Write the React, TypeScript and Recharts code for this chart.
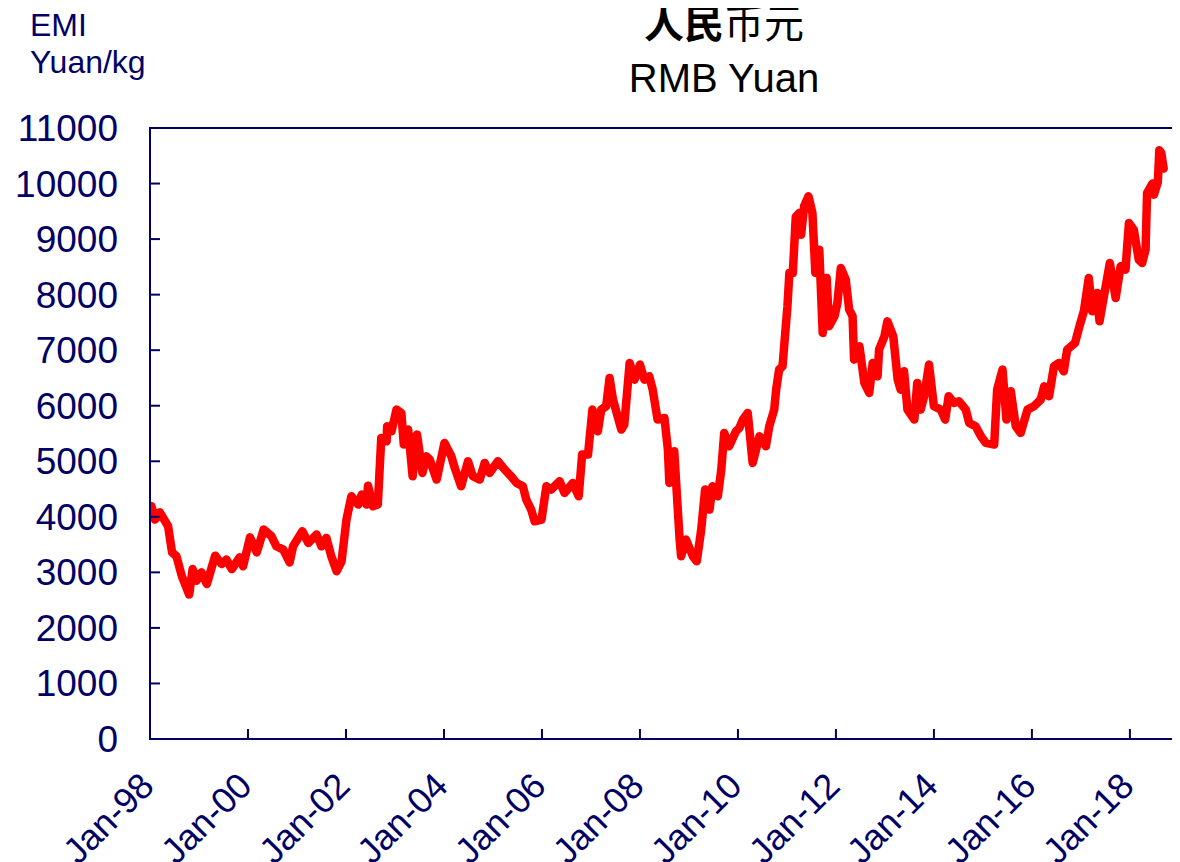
import React from "react";
import { LineChart, Line, XAxis, YAxis, ReferenceArea } from "recharts";

const years: number[] = [
  1998.0, 1998.03, 1998.1, 1998.2, 1998.37, 1998.45, 1998.54, 1998.65, 1998.8, 1998.87, 1998.95,
  1999.05, 1999.16, 1999.33, 1999.46, 1999.56, 1999.67, 1999.83, 1999.9,
  2000.04, 2000.18, 2000.32, 2000.48, 2000.58, 2000.72, 2000.85, 2000.92,
  2001.11, 2001.23, 2001.4, 2001.5, 2001.6, 2001.7, 2001.81, 2001.91,
  2002.01, 2002.11, 2002.25, 2002.32, 2002.42, 2002.45, 2002.55, 2002.65, 2002.72, 2002.83, 2002.84, 2002.93,
  2003.03, 2003.13, 2003.18, 2003.27, 2003.36, 2003.45, 2003.56, 2003.64, 2003.71, 2003.85,
  2004.01, 2004.15, 2004.22, 2004.35, 2004.49, 2004.59, 2004.73, 2004.83, 2004.93,
  2005.1, 2005.24, 2005.37, 2005.48, 2005.61, 2005.68, 2005.78, 2005.85, 2005.99,
  2006.09, 2006.19, 2006.36, 2006.46, 2006.63, 2006.75, 2006.82, 2006.94,
  2007.03, 2007.14, 2007.21, 2007.31, 2007.38, 2007.45, 2007.62, 2007.68, 2007.79, 2007.89,
  2008.0, 2008.09, 2008.19, 2008.26, 2008.36, 2008.5, 2008.57, 2008.6, 2008.7, 2008.81, 2008.84, 2008.94,
  2009.08, 2009.16, 2009.25, 2009.33, 2009.42, 2009.48, 2009.59, 2009.66, 2009.72, 2009.82, 2009.96,
  2010.03, 2010.1, 2010.2, 2010.3, 2010.44, 2010.57, 2010.64, 2010.74, 2010.78, 2010.84, 2010.91,
  2011.01, 2011.05, 2011.12, 2011.18, 2011.25, 2011.29, 2011.35, 2011.44, 2011.52, 2011.58, 2011.66, 2011.73, 2011.81, 2011.86, 2011.97,
  2012.03, 2012.1, 2012.2, 2012.27, 2012.34, 2012.37, 2012.48, 2012.58, 2012.68, 2012.75, 2012.85, 2012.88, 2012.99,
  2013.05, 2013.17, 2013.26, 2013.32, 2013.39, 2013.46, 2013.6, 2013.66, 2013.73, 2013.8, 2013.9,
  2014.0, 2014.14, 2014.23, 2014.3, 2014.41, 2014.51, 2014.65, 2014.72, 2014.85, 2014.96,
  2015.06, 2015.23, 2015.29, 2015.4, 2015.48, 2015.57, 2015.67, 2015.77, 2015.91,
  2016.04, 2016.18, 2016.25, 2016.35, 2016.45, 2016.55, 2016.65, 2016.72, 2016.88, 2016.99,
  2017.06, 2017.16, 2017.23, 2017.33, 2017.38, 2017.47, 2017.59, 2017.71, 2017.81, 2017.91, 2017.98,
  2018.08, 2018.18, 2018.25, 2018.32, 2018.35, 2018.46, 2018.49, 2018.57, 2018.6, 2018.64, 2018.69,
];

const emi: number[] = [
  4200, 4190, 3950, 4080, 3830, 3360, 3290, 2930, 2600, 3060, 2850,
  3000, 2790, 3300, 3150, 3230, 3060, 3270, 3110,
  3630, 3360, 3770, 3650, 3470, 3410, 3180, 3470,
  3740, 3530, 3680, 3470, 3620, 3290, 3020, 3200,
  3950, 4370, 4220, 4400, 4220, 4560, 4190, 4220, 5420, 5360, 5630, 5540,
  5930, 5870, 5300, 5570, 4730, 5480, 4790, 5090, 5030, 4670,
  5330, 5090, 4880, 4550, 5000, 4730, 4670, 4970, 4790,
  5000, 4850, 4730, 4610, 4550, 4310, 4130, 3920, 3950,
  4550, 4490, 4640, 4430, 4610, 4370, 5120, 5120,
  5930, 5540, 5930, 5990, 6500, 6110, 5570, 5660, 6770, 6470,
  6740, 6470, 6530, 6290, 5750, 5780, 5210, 4610, 5180, 3590, 3290, 3590,
  3290, 3200, 3770, 4490, 4130, 4550, 4370, 4850, 5510, 5270, 5540,
  5600, 5750, 5870, 4970, 5450, 5270, 5630, 5930, 6290, 6650, 6710,
  7790, 8390, 8390, 9400, 9470, 9080, 9590, 9770, 9470, 8390, 8810, 7310, 8300, 7430, 7610,
  7850, 8480, 8270, 7730, 7610, 6830, 7070, 6410, 6230, 6770, 6530, 7010, 7250,
  7520, 7250, 6470, 6290, 6620, 5930, 5750, 6410, 5930, 6170, 6740,
  5990, 5930, 5750, 6170, 6050, 6080, 5930, 5690, 5630, 5450,
  5330, 5300, 6290, 6650, 5750, 6260, 5630, 5510, 5930,
  5990, 6110, 6350, 6170, 6710, 6770, 6620, 7010, 7130, 7490,
  7700, 8300, 7700, 8030, 7520, 7970, 8570, 7940, 8510, 8450, 9290,
  9170, 8630, 8570, 8810, 9830, 10000, 9800, 10030, 10600, 10550, 10270,
];

const xTicks: number[] = [1998, 2000, 2002, 2004, 2006, 2008, 2010, 2012, 2014, 2016, 2018];
const yTicks: number[] = [0, 1000, 2000, 3000, 4000, 5000, 6000, 7000, 8000, 9000, 10000, 11000];

const data = years.map((t, i) => ({ t, v: emi[i] }));

const NAVY = "#000066";
const FONT = "'Liberation Sans', Arial, sans-serif";

const fmtX = (y: number) => "Jan-" + String(y % 100).padStart(2, "0");

const YTick = (props: any) => {
  const { x, y, payload } = props;
  return (
    <g>
      <line x1={x} x2={x + 10} y1={y} y2={y} stroke={NAVY} strokeWidth={2} />
      <text x={x - 32} y={y + 13} textAnchor="end" fill={NAVY} fontSize={37} fontFamily={FONT}>
        {payload.value}
      </text>
    </g>
  );
};

const XTick = (props: any) => {
  const { x, y, payload } = props;
  const ax = x + 6;
  const ay = y + 49;
  return (
    <g>
      <line x1={x} x2={x} y1={y} y2={y - 10} stroke={NAVY} strokeWidth={2} />
      <text
        x={ax}
        y={ay}
        textAnchor="end"
        fill={NAVY}
        fontSize={36}
        fontFamily={FONT}
        transform={`rotate(-45, ${ax}, ${ay})`}
      >
        {fmtX(payload.value)}
      </text>
    </g>
  );
};

export default function App() {
  const W = 1172;
  const H = 854;
  return (
    <div style={{ position: "relative", width: W, height: H }}>
      <LineChart
        width={W}
        height={H}
        data={data}
        margin={{ top: 120, right: 6, left: 82, bottom: 63 }}
      >
        <XAxis
          dataKey="t"
          type="number"
          domain={[1998, 2018.9]}
          ticks={xTicks}
          interval={0}
          allowDataOverflow
          height={60}
          tickSize={0}
          tickMargin={0}
          tickLine={false}
          axisLine={{ stroke: NAVY, strokeWidth: 2 }}
          tick={<XTick />}
        />
        <YAxis
          type="number"
          domain={[0, 11000]}
          ticks={yTicks}
          interval={0}
          width={60}
          tickSize={0}
          tickMargin={0}
          tickLine={false}
          axisLine={{ stroke: NAVY, strokeWidth: 2 }}
          tick={<YTick />}
        />
        <ReferenceArea
          x1={1998}
          x2={2018.9}
          y1={0}
          y2={11000}
          fill="none"
          fillOpacity={0}
          stroke={NAVY}
          strokeWidth={2}
          ifOverflow="extendDomain"
        />
        <Line
          type="linear"
          dataKey="v"
          stroke="#ff0000"
          strokeWidth={8.5}
          strokeLinejoin="round"
          strokeLinecap="round"
          dot={false}
          activeDot={false}
          isAnimationActive={false}
        />
      </LineChart>
      <svg
        width={W}
        height={130}
        style={{ position: "absolute", left: 0, top: 0, pointerEvents: "none" }}
      >
        <text x={716} y={30} textAnchor="middle" fontSize={40} fill="#000" fontFamily="'Noto Sans CJK SC', sans-serif">
          <tspan fontWeight={700}>人民</tspan>
          <tspan fontWeight={400}>币元</tspan>
        </text>
        <text x={716} y={84} textAnchor="middle" fontSize={40} fill="#000" fontFamily={FONT}>
          RMB Yuan
        </text>
        <text x={22} y={28} fontSize={32} fill={NAVY} fontFamily={FONT}>
          EMI
        </text>
        <text x={22} y={65} fontSize={32} fill={NAVY} fontFamily={FONT}>
          Yuan/kg
        </text>
      </svg>
    </div>
  );
}
